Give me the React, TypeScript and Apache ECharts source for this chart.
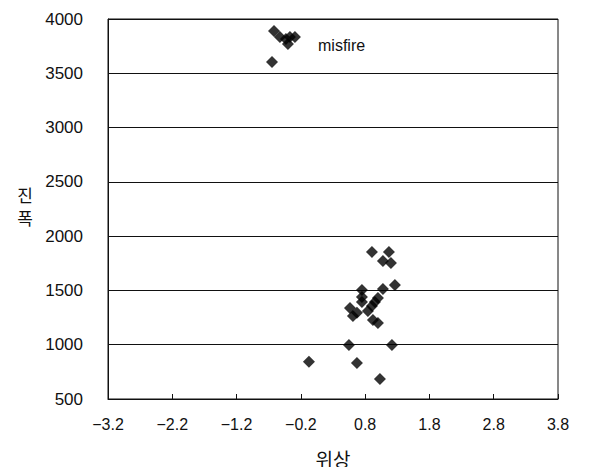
import React, { useEffect, useRef } from "react";
import * as echarts from "echarts";

const normalPhase = [0.906, 1.17, 1.077, 1.201, 1.263, 1.077, 0.75, 0.75, 0.75, 0.952, 0.999, 0.906, 0.843, 0.564, 0.672, 0.61, 0.921, 0.999, 0.548, 1.217, -0.074, 0.672, 1.03];
const normalAmp = [1855, 1855, 1772, 1753, 1551, 1514, 1505, 1440, 1394, 1394, 1431, 1357, 1311, 1339, 1294, 1265, 1228, 1201, 998, 998, 842, 832, 685];
const misfirePhase = [-0.618, -0.525, -0.432, -0.37, -0.292, -0.401, -0.649];
const misfireAmp = [3889, 3834, 3816, 3834, 3834, 3770, 3604];
const xTicks = { min: -3.2, max: 3.8, step: 1 };
const yTicks = { min: 500, max: 4000, step: 500 };
const yNameChars = ["진", "폭"];

export default function App() {
  const ref = useRef<HTMLDivElement>(null);
  useEffect(() => {
    if (!ref.current) return;
    const chart = echarts.init(ref.current, null, { renderer: "svg" });
    const font = "'Liberation Sans', Arial, sans-serif";
    const kr = "'Noto Sans CJK KR', sans-serif";
    const pts = (xs: number[], ys: number[]) => xs.map((x, i) => [x, ys[i]]);
    chart.setOption({
      animation: false,
      backgroundColor: "#fff",
      textStyle: { fontFamily: font },
      grid: { left: 108, right: 44, top: 19, bottom: 76, show: true, borderColor: "#111", borderWidth: 1 },
      xAxis: {
        type: "value",
        min: xTicks.min,
        max: xTicks.max,
        interval: xTicks.step,
        name: "위상",
        nameLocation: "middle",
        nameGap: 50,
        nameTextStyle: { fontSize: 19, color: "#111", fontFamily: kr },
        axisLine: { show: true, onZero: false, lineStyle: { color: "#111" } },
        axisTick: { show: true, inside: true, length: 5, lineStyle: { color: "#111" } },
        axisLabel: {
          fontSize: 16,
          color: "#111",
          margin: 17,
          fontFamily: font,
          formatter: (v: number) => v.toFixed(1).replace("-", "−"),
        },
        splitLine: { show: false },
      },
      yAxis: {
        type: "value",
        min: yTicks.min,
        max: yTicks.max,
        interval: yTicks.step,
        axisLine: { show: true, onZero: false, lineStyle: { color: "#111" } },
        axisTick: { show: false },
        axisLabel: { fontSize: 17, color: "#111", margin: 25, fontFamily: font, formatter: (v: number) => String(v) },
        splitLine: { show: true, lineStyle: { color: "#111", width: 1 } },
      },
      graphic: [
        {
          type: "text",
          left: 318,
          top: 37,
          style: { text: "misfire", fontSize: 16, fill: "#111", fontFamily: font },
        },
        ...yNameChars.map((c, i) => ({
          type: "text",
          x: 25,
          y: 194 + i * 23,
          style: { text: c, fontSize: 17, fill: "#111", fontFamily: kr, align: "center", verticalAlign: "middle" },
        })),
      ],
      series: [
        {
          type: "scatter",
          symbol: "diamond",
          symbolSize: 12,
          itemStyle: { color: "#000" },
          data: pts(normalPhase, normalAmp),
        },
        {
          type: "scatter",
          symbol: "diamond",
          symbolSize: 12,
          itemStyle: { color: "#000" },
          data: pts(misfirePhase, misfireAmp),
        },
      ],
    });
    return () => chart.dispose();
  }, []);
  return <div ref={ref} style={{ width: 602, height: 475, margin: -8 }} />;
}
